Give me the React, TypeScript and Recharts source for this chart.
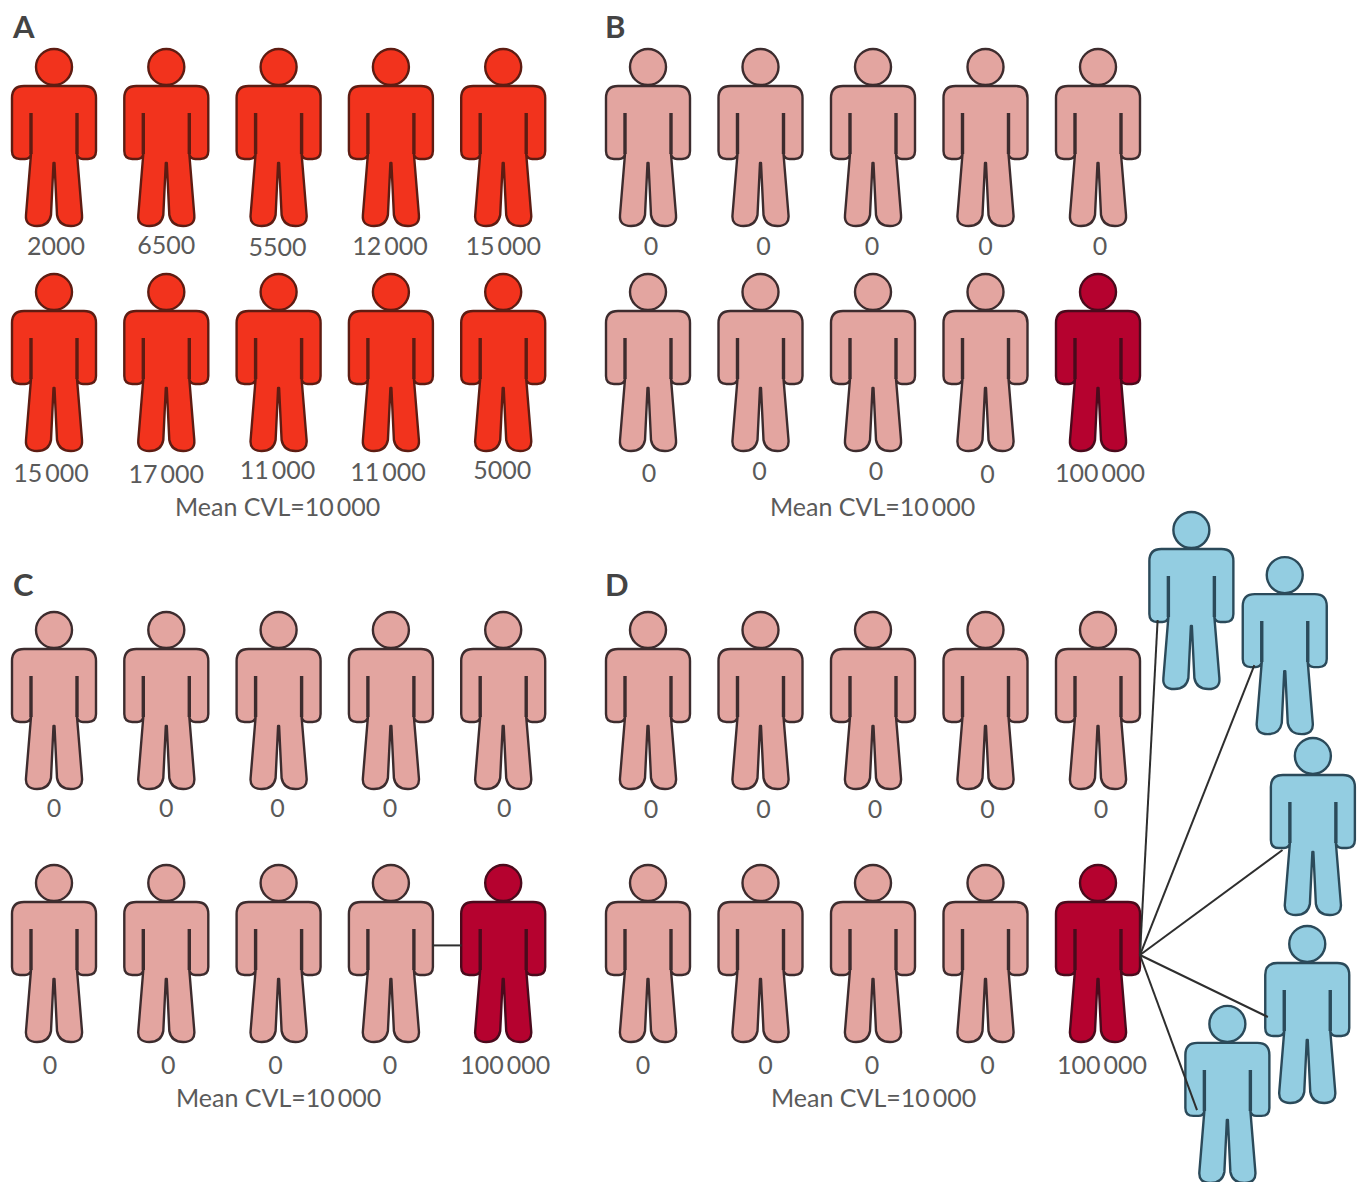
import { ScatterChart, Scatter, XAxis, YAxis } from "recharts";

// viral load of each person, five per row
const panelA = [2000, 6500, 5500, 12000, 15000, 15000, 17000, 11000, 11000, 5000];
const panelB = [0, 0, 0, 0, 0, 0, 0, 0, 0, 100000];
const panelC = [0, 0, 0, 0, 0, 0, 0, 0, 0, 100000];
const panelD = [0, 0, 0, 0, 0, 0, 0, 0, 0, 100000];

const meanCvl = 10000;

// people infected by the high viral load person in D, in grid units
const contactCols = [4.83, 5.66, 5.91, 5.86, 5.15];
const contactRows = [-0.395, -0.217, 0.498, 1.241, 1.557];
// where each transmission line stops
const linkEndCols = [4.53, 5.39, 5.64, 5.51, 4.88];
const linkEndRows = [-0.316, -0.138, 0.593, 1.253, 1.621];
const hubCol = 4.373;
const hubRow = 1.008;

// small hand placed offsets of the number labels, same as the print
const nudgeA = [[2, 0], [0, -1], [-1, 1], [-1, 0], [0, 0], [-3, 2], [0, 3], [-1, -1], [-3, 1], [-1, -1]];
const nudgeB = [[3, 0], [3, 0], [-1, 0], [0, 0], [2, 0], [1, 2], [-1, 0], [3, 0], [2, 3], [2, 2]];
const nudgeC = [[0, -1], [0, -1], [-1, -1], [-1, -1], [1, -1], [-4, 3], [2, 3], [-3, 3], [-1, 3], [2, 3]];
const nudgeD = [[3, 0], [3, 0], [2, 0], [2, 0], [3, 0], [-5, 3], [5, 3], [-1, 3], [2, 3], [4, 3]];

const FONT = "Lato, sans-serif";
const TEXT = "#5a5a5a";

const PAINT = {
  red: { fill: "#f2331d", stroke: "#5e1c12" },
  pink: { fill: "#e3a5a0", stroke: "#3d2c2e" },
  dark: { fill: "#b5022f", stroke: "#4a0a1c" },
  blue: { fill: "#93cde1", stroke: "#2b4a5a" },
};

const BODY =
  "M-30,-51 H30 Q42,-51 42,-39 V14 Q42,22 34,22 H29 Q24,22 23,17 L28,78 Q29,89 17,89 Q5,89 3,78 L0.5,26 H-0.5 L-3,78 Q-5,89 -17,89 Q-29,89 -28,78 L-23,17 Q-24,22 -29,22 H-34 Q-42,22 -42,14 V-39 Q-42,-51 -30,-51 Z";

function paintFor(value: number) {
  if (value === 0) return PAINT.pink;
  if (value >= 100000) return PAINT.dark;
  return PAINT.red;
}

function splitValue(value: number) {
  const s = String(value);
  if (value < 10000) return [s, ""];
  return [s.slice(0, -3), s.slice(-3)];
}

function Person({ cx, cy, paint, value, nudge }: any) {
  const parts = value != null ? splitValue(value) : null;
  return (
    <g transform={`translate(${cx},${cy})`}>
      <circle cx={0} cy={-70} r={18} fill={paint.fill} stroke={paint.stroke} strokeWidth={2.4} />
      <path d={BODY} fill={paint.fill} stroke={paint.stroke} strokeWidth={2.4} strokeLinejoin="round" />
      <path d="M-23,-24 V17 M23,-24 V17" stroke={paint.stroke} strokeWidth={3.4} fill="none" />
      {parts && (
        <text x={nudge[0]} y={118 + nudge[1]} textAnchor="middle" fontFamily={FONT} fontSize={25} fill={TEXT}>
          {parts[0]}
          {parts[1] && <tspan dx={3}>{parts[1]}</tspan>}
        </text>
      )}
    </g>
  );
}

interface PanelProps {
  letter: string;
  values: number[];
  nudges: number[][];
  box: { left: number; top: number; width: number; height: number };
  grid: { x0: number; y0: number; dx: number; dy: number };
  letterPos: [number, number];
  meanPos: [number, number];
  links?: { col: number; row: number }[][];
  contacts?: { col: number; row: number }[];
}

function Panel({ letter, values, nudges, box, grid, letterPos, meanPos, links = [], contacts = [] }: PanelProps) {
  const people = values.map((value, i) => ({ col: i % 5, row: Math.floor(i / 5), value, nudge: nudges[i] }));
  const xDomain = [(box.left - grid.x0) / grid.dx, (box.left + box.width - grid.x0) / grid.dx];
  const yDomain = [(box.top - grid.y0) / grid.dy, (box.top + box.height - grid.y0) / grid.dy];
  const mean = splitValue(meanCvl);

  return (
    <>
      <div style={{ position: "absolute", left: box.left, top: box.top }}>
        <ScatterChart width={box.width} height={box.height} margin={{ top: 0, right: 0, bottom: 0, left: 0 }}>
          <XAxis type="number" dataKey="col" domain={xDomain} hide />
          <YAxis type="number" dataKey="row" domain={yDomain} reversed hide />
          <Scatter
            data={people}
            isAnimationActive={false}
            shape={(p: any) => (
              <Person cx={p.cx} cy={p.cy} paint={paintFor(p.payload.value)} value={p.payload.value} nudge={p.payload.nudge} />
            )}
          />
          {contacts.length > 0 && (
            <Scatter
              data={contacts}
              isAnimationActive={false}
              shape={(p: any) => <Person cx={p.cx} cy={p.cy} paint={PAINT.blue} />}
            />
          )}
          {links.map((link, i) => (
            <Scatter
              key={i}
              data={link}
              isAnimationActive={false}
              line={{ stroke: "#2e2e2e", strokeWidth: 2 }}
              shape={() => <g />}
            />
          ))}
        </ScatterChart>
      </div>
      <div
        style={{
          position: "absolute",
          left: letterPos[0],
          top: letterPos[1],
          fontFamily: FONT,
          fontSize: 31,
          fontWeight: 700,
          lineHeight: "31px",
          color: "#444",
        }}
      >
        {letter}
      </div>
      <div
        style={{
          position: "absolute",
          left: meanPos[0],
          top: meanPos[1],
          fontFamily: FONT,
          fontSize: 25,
          lineHeight: "30px",
          color: TEXT,
          whiteSpace: "nowrap",
        }}
      >
        Mean CVL={mean[0]}
        <span style={{ marginLeft: 3 }}>{mean[1]}</span>
      </div>
    </>
  );
}

export default function App() {
  const contacts = contactCols.map((col, i) => ({ col, row: contactRows[i] }));
  const links = linkEndCols.map((col, i) => [
    { col: hubCol, row: hubRow },
    { col, row: linkEndRows[i] },
  ]);

  return (
    <div style={{ position: "absolute", left: 0, top: 0, width: 1360, height: 1182, background: "#fff", overflow: "hidden" }}>
      <Panel
        letter="A"
        values={panelA}
        nudges={nudgeA}
        box={{ left: 0, top: 0, width: 590, height: 530 }}
        grid={{ x0: 54, y0: 137, dx: 112.3, dy: 225 }}
        letterPos={[13, 11]}
        meanPos={[175, 491]}
      />
      <Panel
        letter="B"
        values={panelB}
        nudges={nudgeB}
        box={{ left: 590, top: 0, width: 570, height: 530 }}
        grid={{ x0: 648, y0: 137, dx: 112.5, dy: 225 }}
        letterPos={[605, 11]}
        meanPos={[770, 491]}
      />
      <Panel
        letter="C"
        values={panelC}
        nudges={nudgeC}
        box={{ left: 0, top: 560, width: 590, height: 622 }}
        grid={{ x0: 54, y0: 700, dx: 112.3, dy: 253 }}
        letterPos={[13, 569]}
        meanPos={[176, 1082]}
        links={[
          [
            { col: 3.37, row: 0.97 },
            { col: 3.63, row: 0.97 },
          ],
        ]}
      />
      <Panel
        letter="D"
        values={panelD}
        nudges={nudgeD}
        box={{ left: 590, top: 505, width: 770, height: 677 }}
        grid={{ x0: 648, y0: 700, dx: 112.5, dy: 253 }}
        letterPos={[605, 569]}
        meanPos={[771, 1082]}
        contacts={contacts}
        links={links}
      />
    </div>
  );
}
